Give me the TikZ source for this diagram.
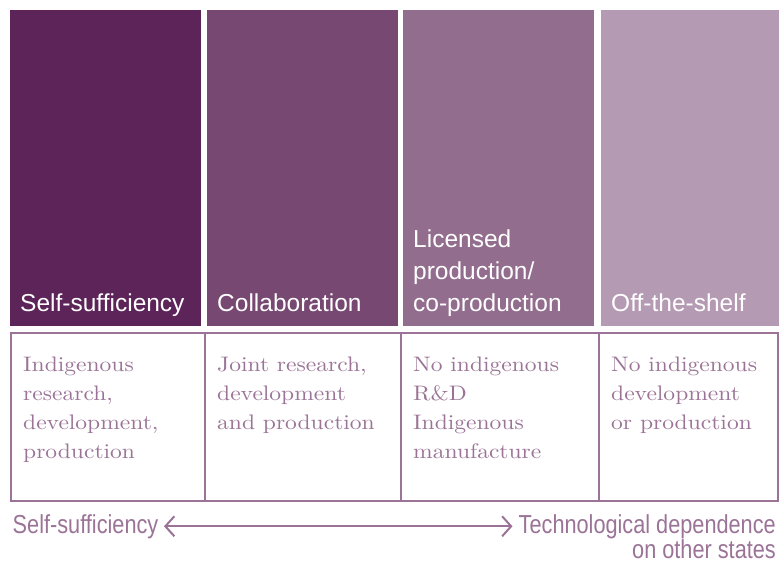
\documentclass[tikz,border=0pt]{standalone}
\usepackage{fontspec}
\usetikzlibrary{arrows.meta}

\newfontfamily\headfont{Liberation Sans}
\newfontfamily\sidefont[FakeStretch=0.835]{Liberation Sans}
\newfontfamily\cellfont[FakeStretch=1.12]{lmroman10-regular.otf}

\definecolor{plumA}{HTML}{5C2459}
\definecolor{plumB}{HTML}{774871}
\definecolor{plumC}{HTML}{926D8E}
\definecolor{plumD}{HTML}{B59AB4}
\definecolor{plumline}{HTML}{9A7396}

\begin{document}
\begin{tikzpicture}[x=1pt, y=-1pt,
  head/.style={anchor=north west, inner sep=0, minimum height=316pt},
  headtext/.style={anchor=base west, inner sep=0, align=left, text=white,
    font=\headfont\fontsize{24.5}{31.6}\selectfont},
  cell/.style={draw=plumline, line width=2pt, anchor=north west, inner sep=0, minimum height=168pt},
  celltext/.style={anchor=north west, inner sep=0, align=left, text=plumline,
    font=\cellfont\fontsize{21}{29.2}\selectfont},
  side/.style={inner sep=0, text=plumline, font=\sidefont\fontsize{26}{25}\selectfont}]
  \useasboundingbox (0,0) rectangle (781,564);

  % coloured heads
  \node [head, fill=plumA, minimum width=191pt] (h1) at (10,10) {};
  \node [head, fill=plumB, minimum width=191pt] (h2) at (207,10) {};
  \node [head, fill=plumC, minimum width=191pt] (h3) at (403,10) {};
  \node [head, fill=plumD, minimum width=178pt] (h4) at (601,10) {};

  \node [headtext] (ht1) at (20,311) {Self-sufficiency};
  \node [headtext] (ht2) at (217,311) {Collaboration};
  \node [headtext] (ht3) at (413,311) {Licensed\\production/\\co-production};
  \node [headtext] (ht4) at (611,311) {Off-the-shelf};

  % white cells underneath
  \node [cell, minimum width=194pt] (c1) at (10,332) {};
  \node [cell, minimum width=196pt] (c2) at (204,332) {};
  \node [cell, minimum width=198pt] (c3) at (400,332) {};
  \node [cell, minimum width=179pt] (c4) at (598,332) {};

  \node [celltext] (ct1) at (23,356.5) {Indigenous\\research,\\development,\\production};
  \node [celltext] (ct2) at (217,356.5) {Joint research,\\development\\and production};
  \node [celltext] (ct3) at (413,356.5) {No indigenous\\R\&D\\Indigenous\\manufacture};
  \node [celltext] (ct4) at (611,356.5) {No indigenous\\development\\or production};

  % scale along the bottom
  \node [side, anchor=base west] (self) at (12.5,533) {Self-sufficiency};
  \node [side, anchor=base east, align=right] (dep) at (776,558) {Technological dependence\\on other states};

  \draw [plumline, line width=2pt, {Straight Barb[length=9pt,width=20pt]}-{Straight Barb[length=9pt,width=20pt]}]
    ([xshift=5.5pt]self.east) -- ([xshift=-6pt]self.east -| dep.west);
\end{tikzpicture}
\end{document}
